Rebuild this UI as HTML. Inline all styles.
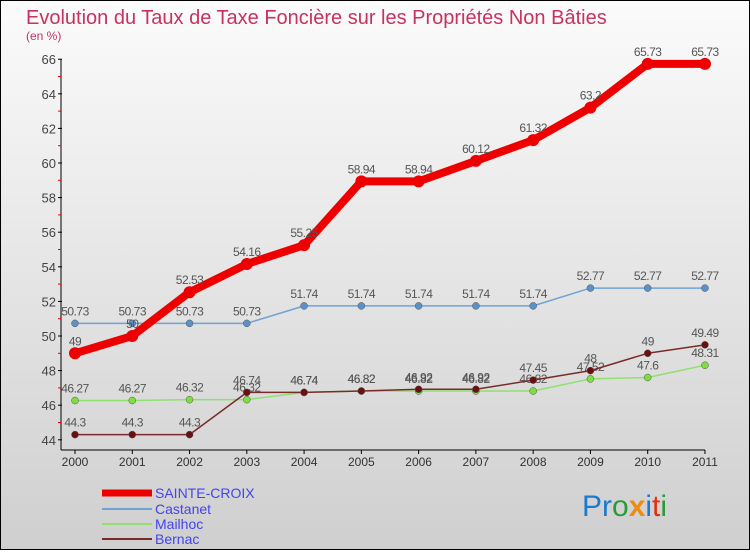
<!DOCTYPE html>
<html><head><meta charset="utf-8"><style>
body{margin:0}
#c{width:750px;height:550px;position:relative;font-family:"Liberation Sans",sans-serif}
</style></head><body>
<div id="c">
<svg id="s" width="750" height="550" xmlns="http://www.w3.org/2000/svg">
<defs><linearGradient id="bg" x1="0" y1="0" x2="0" y2="1"><stop offset="0" stop-color="#fbfbfb"/><stop offset="1" stop-color="#cfcfcf"/></linearGradient></defs>
<rect x="0.5" y="0.5" width="749" height="549" fill="url(#bg)" stroke="#000"/>
<text x="26" y="24" font-size="20" fill="#c8325f">Evolution du Taux de Taxe Foncière sur les Propriétés Non Bâties</text>
<text x="26" y="40" font-size="12" fill="#c8325f">(en %)</text>
<g id="g"></g>
<g>
<line x1="102" y1="493" x2="152" y2="493" stroke="#e00" stroke-width="7"/>
<text x="155" y="498" font-size="14" fill="#44e">SAINTE-CROIX</text>
<line x1="102" y1="509" x2="152" y2="509" stroke="#6fa3d6" stroke-width="2"/>
<text x="155" y="514" font-size="14" fill="#44e">Castanet</text>
<line x1="102" y1="524" x2="152" y2="524" stroke="#90e070" stroke-width="2"/>
<text x="155" y="529" font-size="14" fill="#44e">Mailhoc</text>
<line x1="102" y1="539" x2="152" y2="539" stroke="#7a2a2a" stroke-width="2"/>
<text x="155" y="544" font-size="14" fill="#44e">Bernac</text>
</g>
<text x="582" y="516" font-size="30"><tspan fill="#1a7ad0">Pr</tspan><tspan fill="#2a9a3a">o</tspan><tspan fill="#f08a10" font-weight="bold">x</tspan><tspan fill="#1a7ad0">i</tspan><tspan fill="#e03010">t</tspan><tspan fill="#2a9a3a">i</tspan></text>
</svg>
</div>
<script>
const years=["2000","2001","2002","2003","2004","2005","2006","2007","2008","2009","2010","2011"];
const yTicks=[44,46,48,50,52,54,56,58,60,62,64,66];
const sainteCroix=[49,50,52.53,54.16,55.25,58.94,58.94,60.12,61.32,63.2,65.73,65.73];
const castanet=[50.73,50.73,50.73,50.73,51.74,51.74,51.74,51.74,51.74,52.77,52.77,52.77];
const mailhoc=[46.27,46.27,46.32,46.32,46.74,46.82,46.82,46.82,46.82,47.52,47.6,48.31];
const bernac=[44.3,44.3,44.3,46.74,46.74,46.82,46.92,46.92,47.45,48,49,49.49];
const NS="http://www.w3.org/2000/svg",g=document.getElementById('g');
const X=i=>75+i*57.27, Y=v=>336-(v-50)*17.3;
function mk(t,a,n){const e=document.createElementNS(NS,t);for(const k in a)e.setAttribute(k,a[k]);


g.appendChild(e);return e;}
mk('line',{x1:61,y1:Y(66),x2:61,y2:450,stroke:'#000'},'y-axis');
mk('line',{x1:61,y1:450,x2:X(11),y2:450,stroke:'#000'},'x-axis');
yTicks.forEach(v=>{mk('line',{x1:58,y1:Y(v),x2:62,y2:Y(v),stroke:'#000'},'y-tick');
const t=mk('text',{x:56,y:Y(v)+5,'font-size':13,fill:'#444','text-anchor':'end'},'y-tick-label');t.textContent=v;
if(v<66)mk('line',{x1:58,y1:Y(v+1),x2:61,y2:Y(v+1),stroke:'#e00'},'y-minor-tick');});
years.forEach((y,i)=>{mk('line',{x1:X(i),y1:450,x2:X(i),y2:454,stroke:'#000'},'x-tick');
const t=mk('text',{x:X(i),y:466,'font-size':12,fill:'#333','text-anchor':'middle'},'x-tick-label');t.textContent=y;});
function series(d,col,w,r,name,dot){
mk('polyline',{points:d.map((v,i)=>X(i)+','+Y(v)).join(' '),fill:'none',stroke:col,'stroke-width':w,'stroke-linejoin':'round'},name+'-line');
d.forEach((v,i)=>{mk('circle',{cx:X(i),cy:Y(v),r:r,fill:dot,stroke:dot==='#e00'?'none':'#555','stroke-width':0.5},name+'-point');
const t=mk('text',{x:X(i),y:Y(v)-8,'font-size':12,fill:'#555','text-anchor':'middle','letter-spacing':'-0.5'},name+'-value-label');t.textContent=v;});}
series(castanet,'#6fa3d6',1.5,3.5,'castanet','#5a92c8');
series(mailhoc,'#90e070',1.5,3.5,'mailhoc','#80dd40');
series(bernac,'#7a2a2a',1.5,3.5,'bernac','#6a1010');
series(sainteCroix,'#e00',8,6,'sainte-croix','#e00');
</script>
</body></html>
